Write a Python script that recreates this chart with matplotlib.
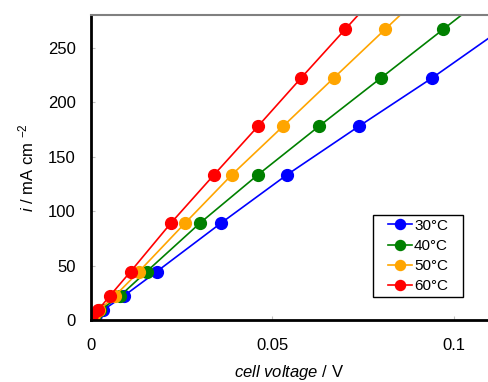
import numpy as np
import matplotlib
matplotlib.use('Agg')
import matplotlib.pyplot as plt
from matplotlib.patches import Rectangle

plt.rcParams['font.family'] = ['Liberation Sans', 'DejaVu Sans']
plt.rcParams['mathtext.fontset'] = 'custom'
plt.rcParams['mathtext.rm'] = 'Liberation Sans'
plt.rcParams['mathtext.it'] = 'Liberation Sans:italic'

# current density, mA cm-2 (last point lies above the plotted range)
i_vals = [4.4, 8.9, 22.2, 44.4, 88.9, 133.3, 177.8, 222.2, 266.7, 311.1]

# cell voltage / V for each temperature
v_30 = [0.0015, 0.0032, 0.0091, 0.0181, 0.0358, 0.0540, 0.0738, 0.0940, 0.1130, 0.1330]
v_40 = [0.0010, 0.0025, 0.0080, 0.0153, 0.0300, 0.0460, 0.0628, 0.0799, 0.0970, 0.1141]
v_50 = [0.0008, 0.0022, 0.0066, 0.0132, 0.0259, 0.0388, 0.0529, 0.0669, 0.0810, 0.0951]
v_60 = [0.0003, 0.0019, 0.0052, 0.0109, 0.0220, 0.0339, 0.0460, 0.0579, 0.0700, 0.0821]

labels = ['30°C', '40°C', '50°C', '60°C']
colors = ['#0000ff', '#008000', '#ffa500', '#ff0000']

fig = plt.figure(figsize=(4.88, 3.82), dpi=100)
ax = fig.add_axes([91/488, 62/382, 1 - 91/488, 305/382])

for v, lab, c in zip([v_30, v_40, v_50, v_60], labels, colors):
    ax.plot(v, i_vals, '-o', color=c, lw=1.2, ms=8.5, label=lab)

ax.set_xlim(0, 0.1094)
ax.set_ylim(0, 280)
ax.set_xticks([0, 0.05, 0.1])
ax.set_xticklabels(['0', '0.05', '0.1'])
ax.set_yticks([0, 50, 100, 150, 200, 250])
ax.tick_params(direction='in', color='#c0c0c0', length=3, labelsize=12)
ax.tick_params(axis='x', pad=13)
ax.tick_params(axis='y', pad=11)

ax.spines['right'].set_visible(False)
ax.spines['top'].set_color('#808080')
ax.spines['top'].set_linewidth(1.5)
ax.spines['left'].set_linewidth(2)
ax.spines['bottom'].set_linewidth(2)

ax.set_xlabel(r'$\mathit{cell\ voltage}$ / V', fontsize=12, labelpad=7)
ax.set_ylabel(r'$i$ / mA cm $^{-2}$', fontsize=12, labelpad=8)

# legend box drawn separately so the padding matches
box = Rectangle((373/488, 85/382), 90/488, 82/382,
                transform=fig.transFigure, facecolor='white',
                edgecolor='black', lw=1.0, zorder=5, clip_on=False)
ax.add_patch(box)
leg = ax.legend(loc='center', bbox_to_anchor=(418/488, 1 - 256/382),
                bbox_transform=fig.transFigure, fontsize=11, frameon=False,
                handlelength=1.6, handletextpad=0.1, labelspacing=0.4,
                borderpad=0.0, markerscale=0.85)
leg.set_zorder(6)

fig.savefig('out.png', dpi=100)
